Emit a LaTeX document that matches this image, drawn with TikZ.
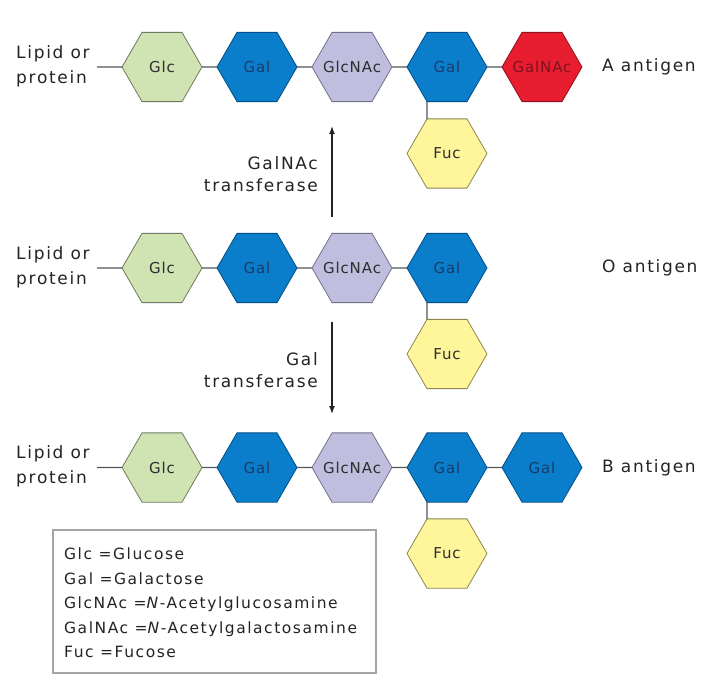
\documentclass[tikz,border=0pt]{standalone}
\usepackage{fontspec}
\setmainfont{DejaVu Sans}[LetterSpace=10]
\newfontfamily\hexfont{DejaVu Sans}[LetterSpace=6]
\usetikzlibrary{shapes.geometric,arrows.meta}
\definecolor{glcfill}{RGB}{208,227,178}
\definecolor{glcdraw}{RGB}{110,122,98}
\definecolor{galfill}{RGB}{10,126,202}
\definecolor{galdraw}{RGB}{0,78,135}
\definecolor{galtext}{RGB}{28,58,105}
\definecolor{nacfill}{RGB}{192,190,222}
\definecolor{nacdraw}{RGB}{115,113,140}
\definecolor{redfill}{RGB}{232,30,48}
\definecolor{reddraw}{RGB}{140,20,30}
\definecolor{redtext}{RGB}{125,18,32}
\definecolor{fucfill}{RGB}{255,245,155}
\definecolor{fucdraw}{RGB}{140,132,80}
\definecolor{hextext}{RGB}{45,45,45}
\definecolor{txt}{RGB}{35,35,35}
\definecolor{linkcol}{RGB}{85,85,85}
\definecolor{boxcol}{RGB}{165,165,165}
\newcommand{\hl}[1]{\makebox[0pt]{#1}}
\begin{document}
\begin{tikzpicture}[x=1pt,y=-1pt,
  hexa/.style={regular polygon, regular polygon sides=6,
    minimum size=80pt, inner sep=0pt, outer sep=0pt, line width=0.8pt,
    font=\hexfont\fontsize{15}{17}\selectfont},
  glc/.style={hexa, fill=glcfill, draw=glcdraw, text=hextext},
  gal/.style={hexa, fill=galfill, draw=galdraw, text=galtext},
  glcnac/.style={hexa, fill=nacfill, draw=nacdraw, text=hextext},
  galnac/.style={hexa, fill=redfill, draw=reddraw, text=redtext},
  fuc/.style={hexa, fill=fucfill, draw=fucdraw, text=hextext},
  link/.style={draw=linkcol, line width=1.4pt},
  lbl/.style={font=\fontsize{17}{25}\selectfont, text=txt, inner sep=0pt},
  lipid/.style={lbl, anchor=west, align=left},
  enz/.style={font=\fontsize{17}{22}\selectfont, text=txt, inner sep=0pt, anchor=east, align=right},
  arr/.style={draw=txt, line width=1.4pt, -{Latex[length=8pt,width=6pt]}}
]
\useasboundingbox (0,0) rectangle (717,686);

% ---- A antigen row
\node[glc]    (a1) at (162,67) {\hl{Glc}};
\node[gal]    (a2) at (257,67) {\hl{Gal}};
\node[glcnac] (a3) at (352,67) {\hl{GlcNAc}};
\node[gal]    (a4) at (447,67) {\hl{Gal}};
\node[galnac] (a5) at (542,67) {\hl{GalNAc}};
\node[fuc]    (af) at (447,153.5) {\hl{Fuc}};
\node[lipid]  (al) at (16,66) {Lipid or\\protein};
\coordinate (ac) at (97,67);
\draw[link] (ac) -- (a1);
\draw[link] (a1) -- (a2);
\draw[link] (a2) -- (a3);
\draw[link] (a3) -- (a4);
\draw[link] (a4) -- (a5);
\draw[link] (a4.240) -- (af.120);
\node[lbl, anchor=west] (at) at (602,67) {A antigen};

% ---- O antigen row
\node[glc]    (o1) at (162,268) {\hl{Glc}};
\node[gal]    (o2) at (257,268) {\hl{Gal}};
\node[glcnac] (o3) at (352,268) {\hl{GlcNAc}};
\node[gal]    (o4) at (447,268) {\hl{Gal}};
\node[fuc]    (of) at (447,354) {\hl{Fuc}};
\node[lipid]  (ol) at (16,267) {Lipid or\\protein};
\coordinate (oc) at (97,268);
\draw[link] (oc) -- (o1);
\draw[link] (o1) -- (o2);
\draw[link] (o2) -- (o3);
\draw[link] (o3) -- (o4);
\draw[link] (o4.240) -- (of.120);
\node[lbl, anchor=west] (ot) at (602,268) {O antigen};

% ---- B antigen row
\node[glc]    (b1) at (162,467.5) {\hl{Glc}};
\node[gal]    (b2) at (257,467.5) {\hl{Gal}};
\node[glcnac] (b3) at (352,467.5) {\hl{GlcNAc}};
\node[gal]    (b4) at (447,467.5) {\hl{Gal}};
\node[gal]    (b5) at (542,467.5) {\hl{Gal}};
\node[fuc]    (bf) at (447,553.5) {\hl{Fuc}};
\node[lipid]  (bl) at (16,466.5) {Lipid or\\protein};
\coordinate (bc) at (97,467.5);
\draw[link] (bc) -- (b1);
\draw[link] (b1) -- (b2);
\draw[link] (b2) -- (b3);
\draw[link] (b3) -- (b4);
\draw[link] (b4) -- (b5);
\draw[link] (b4.240) -- (bf.120);
\node[lbl, anchor=west] (bt) at (602,467.5) {B antigen};

% ---- enzyme arrows
\coordinate (u1) at (332,217);
\coordinate (u2) at (332,126);
\draw[arr] (u1) -- (u2);
\node[enz] (ue) at (318,174) {GalNAc\\transferase};
\coordinate (d1) at (332,322);
\coordinate (d2) at (332,414);
\draw[arr] (d1) -- (d2);
\node[enz] (de) at (318,370) {Gal\\transferase};

% ---- legend
\node[draw=boxcol, line width=1.3pt, minimum width=323pt, minimum height=143pt, inner sep=0pt] (legbox) at (214.5,601.5) {};
\node[anchor=north west, align=left, inner sep=0pt, text=txt,
      font=\fontsize{15.5}{24.5}\selectfont] (legtext) at (64,548)
  {Glc =Glucose\\
   Gal =Galactose\\
   GlcNAc =\textit{N}-Acetylglucosamine\\
   GalNAc =\textit{N}-Acetylgalactosamine\\
   Fuc =Fucose};
\end{tikzpicture}
\end{document}
